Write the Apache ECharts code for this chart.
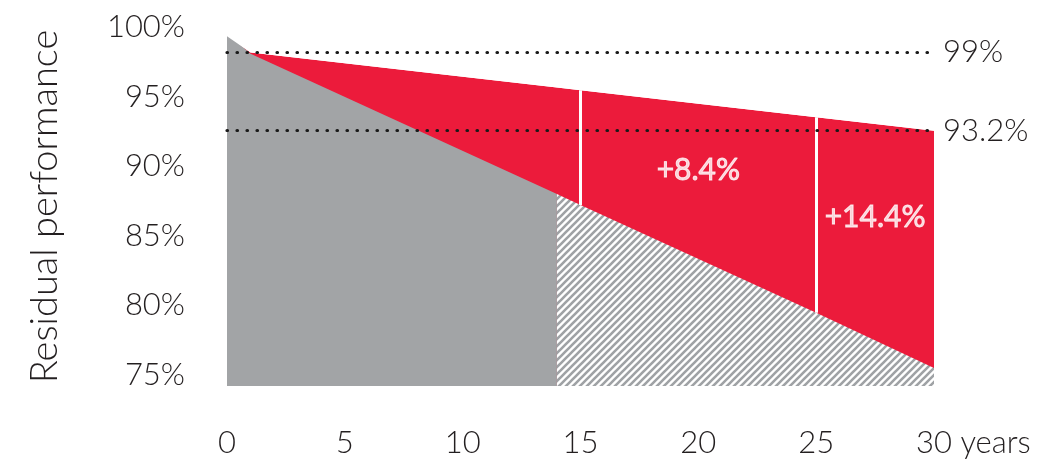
<!DOCTYPE html>
<html>
<head>
<meta charset="utf-8">
<script src="https://cdn.jsdelivr.net/npm/echarts@6/dist/echarts.min.js"></script>
<style>
  html, body { margin: 0; padding: 0; background: #ffffff; }
  #chart { width: 1056px; height: 466px; }
</style>
</head>
<body>
<div id="chart"></div>
<script>
// ---- data ----
const years     = [0, 1, 14, 15, 25, 30];
const warranty  = [100.2, 99, 96.4, 96.2, 94.2, 93.2];   // linear warranty (red top)
const standard  = [100.4, 98.9, 88.5, 87.7, 79.7, 75.6]; // standard degradation (gray)
const hatchFrom = 14;                 // gray turns hatched from this year on
const dividers  = [15, 25];           // white separators
const gainLabels = ['+8.4%', '+14.4%'];
const refLevels = [99, 93.2];
const refLabels = ['99%', '93.2%'];
const yTickLabels = [75, 80, 85, 90, 95, 100];

// ---- helpers ----
function interp(arr, x) {
  for (let i = 0; i < years.length - 1; i++) {
    if (x >= years[i] && x <= years[i + 1]) {
      const t = (x - years[i]) / (years[i + 1] - years[i]);
      return arr[i] + t * (arr[i + 1] - arr[i]);
    }
  }
  return arr[arr.length - 1];
}
const pairs = arr => years.map((y, i) => [y, arr[i]]);
const grayPairs  = pairs(standard).filter(p => p[0] <= hatchFrom);
const hatchPairs = pairs(standard).filter(p => p[0] >= hatchFrom);

// hatch pattern
const s = 7;
const pc = document.createElement('canvas');
pc.width = s; pc.height = s;
const pctx = pc.getContext('2d');
pctx.fillStyle = '#ffffff';
pctx.fillRect(0, 0, s, s);
pctx.strokeStyle = '#9FA2A5';
pctx.lineWidth = 2.6;
pctx.beginPath();
pctx.moveTo(0, s); pctx.lineTo(s, 0);
pctx.moveTo(-1, 1); pctx.lineTo(1, -1);
pctx.moveTo(s - 1, s + 1); pctx.lineTo(s + 1, s - 1);
pctx.stroke();

const FONT = 'Lato';
const TXT = '#231F20';
const tickSize = 31;

// width of " years" for centering "30" under its tick
const mc = document.createElement('canvas').getContext('2d');
mc.font = '300 ' + tickSize + 'px ' + FONT;
const yearsW = mc.measureText(' years').width;

// gain label positions (between dividers)
const bounds = dividers.concat([years[years.length - 1]]);
const gainData = gainLabels.map((t, i) => {
  const x = (bounds[i] + bounds[i + 1]) / 2;
  const top = interp(warranty, x), bot = interp(standard, x);
  return { value: [x, bot + 0.57 * (top - bot)], name: t };
});

const chart = echarts.init(document.getElementById('chart'));
chart.setOption({
  animation: false,
  backgroundColor: '#ffffff',
  grid: { left: 227, right: 122, top: 27, bottom: 80 },
  xAxis: {
    type: 'value', min: 0, max: 30, interval: 5,
    axisLine: { show: false }, axisTick: { show: false }, splitLine: { show: false },
    axisLabel: {
      margin: 41, fontFamily: FONT, fontWeight: 300, fontSize: tickSize, color: TXT,
      showMaxLabel: true,
      formatter: v => v === 30 ? '{p|}' + v + ' years' : String(v),
      rich: { p: { width: yearsW } }
    }
  },
  yAxis: [
    { // data axis (hidden)
      type: 'value', min: 74.27, max: 100.89, show: false
    },
    { // label axis
      type: 'value', min: 74.21, max: 100, position: 'left',
      axisLine: { show: false }, axisTick: { show: false }, splitLine: { show: false },
      axisLabel: {
        customValues: yTickLabels, margin: 42,
        fontFamily: FONT, fontWeight: 300, fontSize: tickSize, color: TXT,
        formatter: v => v + '%'
      },
      name: 'Residual performance', nameLocation: 'middle', nameRotate: 90, nameGap: 163,
      nameTextStyle: { fontFamily: FONT, fontWeight: 300, fontSize: 38, color: TXT }
    }
  ],
  series: [
    { type: 'line', yAxisIndex: 0, data: pairs(warranty), symbol: 'none', z: 1,
      lineStyle: { width: 0 }, areaStyle: { color: '#EC1B3B', opacity: 1, origin: 'start' } },
    { type: 'line', yAxisIndex: 0, data: grayPairs, symbol: 'none', z: 2,
      lineStyle: { width: 0 }, areaStyle: { color: '#A2A4A6', opacity: 1, origin: 'start' } },
    { type: 'line', yAxisIndex: 0, data: hatchPairs, symbol: 'none', z: 2,
      lineStyle: { width: 0 },
      areaStyle: { color: { image: pc, repeat: 'repeat' }, opacity: 1, origin: 'start' } },
    { type: 'line', yAxisIndex: 0, data: pairs(warranty), symbol: 'none', z: 3,
      lineStyle: { width: 0 }, areaStyle: { color: '#ffffff', opacity: 1, origin: 'end' } },
    { type: 'lines', coordinateSystem: 'cartesian2d', yAxisIndex: 0, z: 4,
      lineStyle: { color: '#ffffff', width: 3, opacity: 1 },
      data: dividers.map(d => ({ coords: [[d, interp(warranty, d)], [d, interp(standard, d)]] })) },
    { type: 'scatter', yAxisIndex: 0, symbolSize: 0, z: 5, data: gainData,
      label: { show: true, position: 'inside', formatter: p => p.name,
        color: '#ffffff', fontFamily: FONT, fontWeight: 'normal', fontSize: 30,
        textBorderColor: '#ffffff', textBorderWidth: 0.9 } },
    { type: 'line', yAxisIndex: 0, data: [], z: 6,
      markLine: {
        silent: true, symbol: 'none',
        lineStyle: { color: '#1a1a1a', width: 3.2, type: [0.5, 9.5], cap: 'round' },
        label: { position: 'end', distance: 9, fontFamily: FONT, fontWeight: 300,
          fontSize: tickSize, color: TXT, formatter: p => p.name },
        data: refLevels.map((v, i) => ({ yAxis: v, name: refLabels[i] }))
      } }
  ]
});
</script>
</body>
</html>
